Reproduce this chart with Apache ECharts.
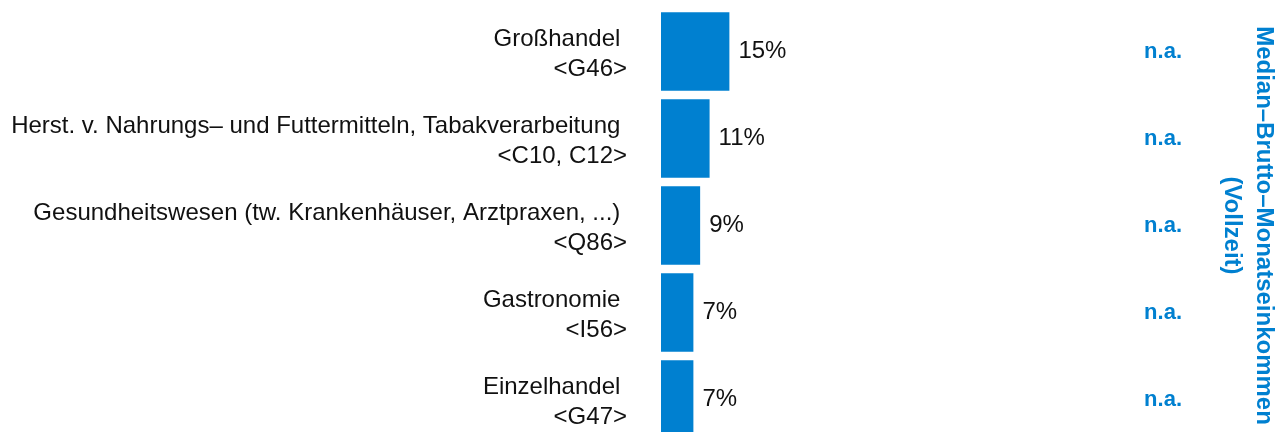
<!DOCTYPE html>
<html>
<head>
<meta charset="utf-8">
<script src="https://cdn.jsdelivr.net/npm/echarts@6/dist/echarts.min.js"></script>
<style>
  html, body { margin: 0; padding: 0; background: #fff; }
  #chart { width: 1282px; height: 432px; }
</style>
</head>
<body>
<div id="chart"></div>
<script>
// Branchen (oben nach unten)
const branchen = [
  'Großhandel',
  'Herst. v. Nahrungs– und Futtermitteln, Tabakverarbeitung',
  'Gesundheitswesen (tw. Krankenhäuser, Arztpraxen, ...)',
  'Gastronomie',
  'Einzelhandel'
]
const codes = ['<G46>', '<C10, C12>', '<Q86>', '<I56>', '<G47>']
// Anteil in %
const anteil = [15.2, 10.8, 8.7, 7.2, 7.2]
// Median-Brutto-Monatseinkommen
const median = ['n.a.', 'n.a.', 'n.a.', 'n.a.', 'n.a.']

const blue = '#0080d0'
const font = '"Liberation Sans", Arial, sans-serif'

const chart = echarts.init(document.getElementById('chart'))
const option = {
  animation: false,
  grid: {
    left: 661,
    width: 521,
    top: 8,
    height: 435,
    outerBoundsMode: 'none',
    containLabel: false
  },
  xAxis: {
    type: 'value',
    min: 0,
    max: 115.8,
    show: false
  },
  yAxis: [{
    type: 'category',
    inverse: true,
    data: branchen,
    axisLine: { show: false },
    axisTick: { show: false },
    axisLabel: {
      margin: 34,
      align: 'right',
      formatter: (val, i) => '{a|' + val + ' }\n{a|' + codes[i] + '}',
      rich: {
        a: {
          fontFamily: font,
          fontSize: 24,
          lineHeight: 30,
          color: '#111',
          align: 'right',
          verticalAlign: 'bottom'
        }
      }
    }
  }, {
    type: 'category',
    inverse: true,
    position: 'right',
    data: median,
    axisLine: { show: false },
    axisTick: { show: false },
    axisLabel: {
      inside: true,
      margin: 0,
      fontFamily: font,
      fontSize: 22,
      fontWeight: 'bold',
      color: blue
    },
    name: 'Median–Brutto–Monatseinkommen\n(Vollzeit)',
    nameLocation: 'middle',
    nameRotate: -90,
    nameGap: 34,
    nameTextStyle: {
      fontFamily: font,
      fontSize: 24,
      fontWeight: 'bold',
      lineHeight: 32,
      color: blue
    }
  }],
  series: [{
    type: 'bar',
    data: anteil,
    barCategoryGap: '9.5%',
    itemStyle: { color: blue },
    label: {
      show: true,
      position: 'right',
      distance: 9,
      fontFamily: font,
      fontSize: 24,
      color: '#111',
      formatter: p => Math.round(p.value) + '%'
    }
  }]
}
chart.setOption(option)
window.addEventListener('resize', () => chart.resize())
</script>
</body>
</html>
